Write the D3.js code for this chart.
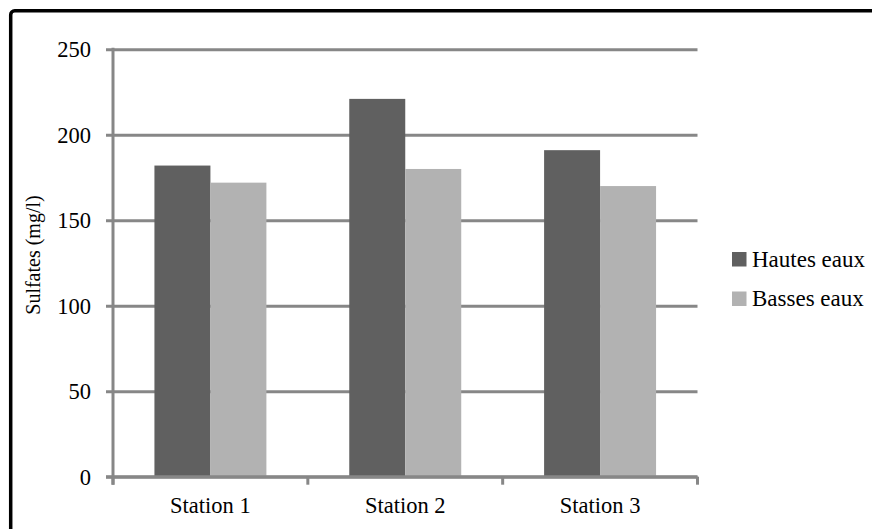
<!DOCTYPE html>
<html>
<head>
<meta charset="utf-8">
<script src="https://cdn.jsdelivr.net/npm/d3@7"></script>
<style>
  html, body { margin: 0; padding: 0; background: #fff; }
  svg { display: block; }
  text { font-family: "Liberation Serif", "Times New Roman", serif; fill: #000; }
</style>
</head>
<body>
<svg id="chart" width="872" height="529"></svg>
<script>
const categories = ["Station 1", "Station 2", "Station 3"];
const seriesNames = ["Hautes eaux", "Basses eaux"];
const hautesEaux = [182, 221, 191];
const bassesEaux = [172, 180, 170];
const yTicks = [0, 50, 100, 150, 200, 250];
const yLabel = "Sulfates (mg/l)";
const colors = ["#606060", "#b2b2b2"];

(function () {
const FONT = "'Liberation Serif', 'Times New Roman', serif";
const series = [hautesEaux, bassesEaux];
const svg = d3.select("#chart");

// frame
svg.append("rect")
  .attr("x", 10.7).attr("y", 10.7)
  .attr("width", 1000).attr("height", 1000)
  .attr("rx", 4)
  .attr("fill", "none").attr("stroke", "#000").attr("stroke-width", 3.5);

const pLeft = 113, pRight = 697.5, pTop = 49.3, pBottom = 476.7;
const y = d3.scaleLinear().domain([0, 250]).range([pBottom, pTop]);
const x0 = d3.scaleBand().domain(categories).range([pLeft, pRight]).padding(0);
const x1 = d3.scaleBand().domain(seriesNames)
  .range([0, x0.bandwidth()]).paddingInner(0).paddingOuter(0.74);

const gridColor = "#878787";

// gridlines with left ticks
const yAxis = d3.axisLeft(y).tickValues(yTicks).tickSize(-(pRight - pLeft)).tickPadding(22);
const gy = svg.append("g").attr("transform", `translate(${pLeft},0)`).call(yAxis);
gy.attr("font-family", null).attr("font-size", null);
gy.select(".domain").remove();
gy.selectAll(".tick line").attr("stroke", gridColor).attr("stroke-width", 3)
  .attr("x1", -7).attr("x2", pRight - pLeft);
gy.selectAll(".tick text")
  .style("font-family", FONT).style("font-size", "22.5px")
  .attr("fill", "#000").attr("dy", "0.34em");

// bars
const groups = svg.append("g").selectAll("g").data(categories).join("g")
  .attr("transform", d => `translate(${x0(d)},0)`);
groups.selectAll("rect")
  .data((c, i) => seriesNames.map((s, j) => ({ s, v: series[j][i], j })))
  .join("rect")
  .attr("x", d => x1(d.s))
  .attr("width", x1.bandwidth())
  .attr("y", d => y(d.v))
  .attr("height", d => pBottom - y(d.v))
  .attr("fill", d => colors[d.j]);

// y axis line
svg.append("line")
  .attr("x1", pLeft).attr("x2", pLeft).attr("y1", pTop - 1.5).attr("y2", pBottom + 8)
  .attr("stroke", gridColor).attr("stroke-width", 3);

// x axis
const xAxis = d3.axisBottom(x0).tickSize(0).tickPadding(20);
const gx = svg.append("g").attr("transform", `translate(0,${pBottom})`).call(xAxis);
gx.attr("font-family", null).attr("font-size", null);
gx.select(".domain").attr("stroke", gridColor).attr("stroke-width", 3)
  .attr("d", `M${pLeft - 7},0H${pRight}`);
gx.selectAll(".tick text")
  .style("font-family", FONT).style("font-size", "22.5px")
  .attr("fill", "#000");
// category separator ticks
const sepVals = categories.map(c => x0(c)).concat([x0(categories[categories.length - 1]) + x0.bandwidth()]);
gx.selectAll(".sep").data(sepVals).join("line")
  .attr("class", "sep")
  .attr("x1", d => d).attr("x2", d => d)
  .attr("y1", 0).attr("y2", 8)
  .attr("stroke", gridColor).attr("stroke-width", 3);

// y label
svg.append("text")
  .attr("transform", `translate(40,255) rotate(-90)`)
  .attr("text-anchor", "middle")
  .style("font-family", FONT).style("font-size", "20px")
  .text(yLabel);

// legend
const lg = svg.append("g").attr("transform", "translate(732,252)");
const items = lg.selectAll("g").data(seriesNames).join("g")
  .attr("transform", (d, i) => `translate(0,${i * 39.5})`);
items.append("rect").attr("width", 14.5).attr("height", 14.5)
  .attr("fill", (d, i) => colors[i]);
items.append("text").attr("x", 20).attr("y", 14.5)
  .style("font-family", FONT).style("font-size", "23px").text(d => d);
})();
</script>
</body>
</html>
